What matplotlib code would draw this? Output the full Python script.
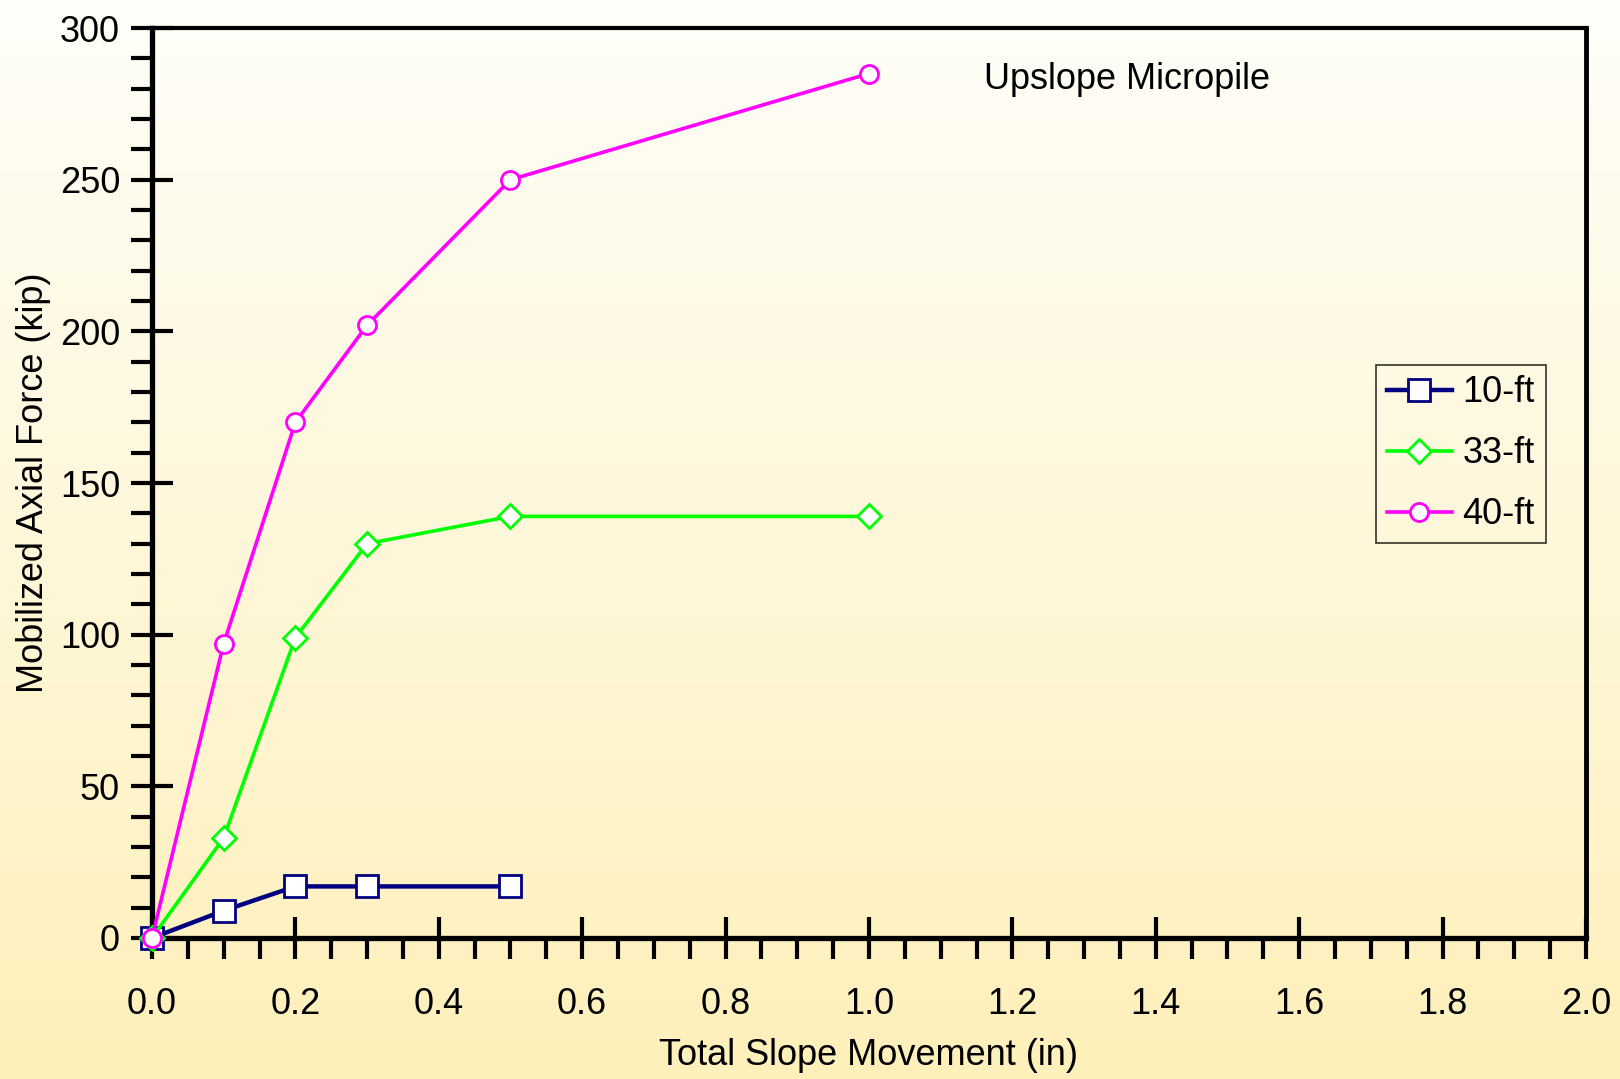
import numpy as np
from matplotlib import pyplot as plt
from matplotlib import font_manager
from matplotlib.colors import LinearSegmentedColormap
from matplotlib.ticker import MultipleLocator

# narrow font if present, otherwise plain Liberation Sans
names = set(f.name for f in font_manager.fontManager.ttflist)
if 'Liberation Sans Narrow' in names:
    fam = ['Liberation Sans Narrow', 'DejaVu Sans']
    fs = 29
else:
    fam = ['Liberation Sans', 'DejaVu Sans']
    fs = 26
plt.rcParams['font.family'] = fam

# data
x10 = [0.0, 0.1, 0.2, 0.3, 0.5]
y10 = [0, 9, 17, 17, 17]
x33 = [0.0, 0.1, 0.2, 0.3, 0.5, 1.0]
y33 = [0, 33, 99, 130, 139, 139]
x40 = [0.0, 0.1, 0.2, 0.3, 0.5, 1.0]
y40 = [0, 97, 170, 202, 250, 285]
labels = ['10-ft', '33-ft', '40-ft']

fig = plt.figure(figsize=(16.2, 10.79), dpi=100)

# background gradient, near white at top to pale yellow at bottom
bg = fig.add_axes([0, 0, 1, 1], zorder=-10)
cmap = LinearSegmentedColormap.from_list('bg', ['#FFFEF9', '#FEF0BA'])
bg.imshow(np.linspace(0, 1, 256).reshape(-1, 1), aspect='auto', cmap=cmap,
          extent=[0, 1, 0, 1])
bg.axis('off')

ax = fig.add_axes([0.0938, 0.1307, 0.8852, 0.8433])
ax.patch.set_alpha(0)

ax.plot(x10, y10, color='#000080', lw=3.2, marker='s', ms=16, mfc='white',
        mec='#000080', mew=2, label=labels[0], clip_on=False, zorder=5)
ax.plot(x33, y33, color='#00FF00', lw=2.6, marker='D', ms=12, mfc='white',
        mec='#00FF00', mew=2, label=labels[1], clip_on=False, zorder=5)
ax.plot(x40, y40, color='#FF00FF', lw=2.6, marker='o', ms=13, mfc='white',
        mec='#FF00FF', mew=2, label=labels[2], clip_on=False, zorder=6)

ax.set_xlim(0, 2.0)
ax.set_ylim(0, 300)
ax.xaxis.set_major_locator(MultipleLocator(0.2))
ax.xaxis.set_minor_locator(MultipleLocator(0.05))
ax.yaxis.set_major_locator(MultipleLocator(50))
ax.yaxis.set_minor_locator(MultipleLocator(10))
ax.xaxis.set_major_formatter(plt.FormatStrFormatter('%.1f'))

ax.tick_params(which='major', direction='inout', length=30, width=3, labelsize=fs)
ax.tick_params(which='minor', direction='out', length=15, width=3)
ax.tick_params(axis='x', which='major', pad=20)
ax.tick_params(axis='y', which='major', pad=8)

for s in ['left', 'bottom']:
    ax.spines[s].set_linewidth(3.8)
ax.spines['right'].set_linewidth(3.5)
ax.spines['top'].set_linewidth(3)

ax.set_xlabel('Total Slope Movement (in)', fontsize=fs, labelpad=12)
ax.set_ylabel('Mobilized Axial Force (kip)', fontsize=fs, labelpad=6)

ax.text(1.16, 283, 'Upslope Micropile', fontsize=fs, va='center', ha='left')

leg = ax.legend(loc='center right', bbox_to_anchor=(0.972, 0.532), fontsize=fs,
                frameon=True, fancybox=False, edgecolor='black',
                handlelength=1.8, handletextpad=0.3, borderpad=0.3,
                labelspacing=0.72, borderaxespad=0)
leg.get_frame().set_linewidth(1.2)
leg.get_frame().set_facecolor('none')

fig.savefig('out.png', dpi=100)
